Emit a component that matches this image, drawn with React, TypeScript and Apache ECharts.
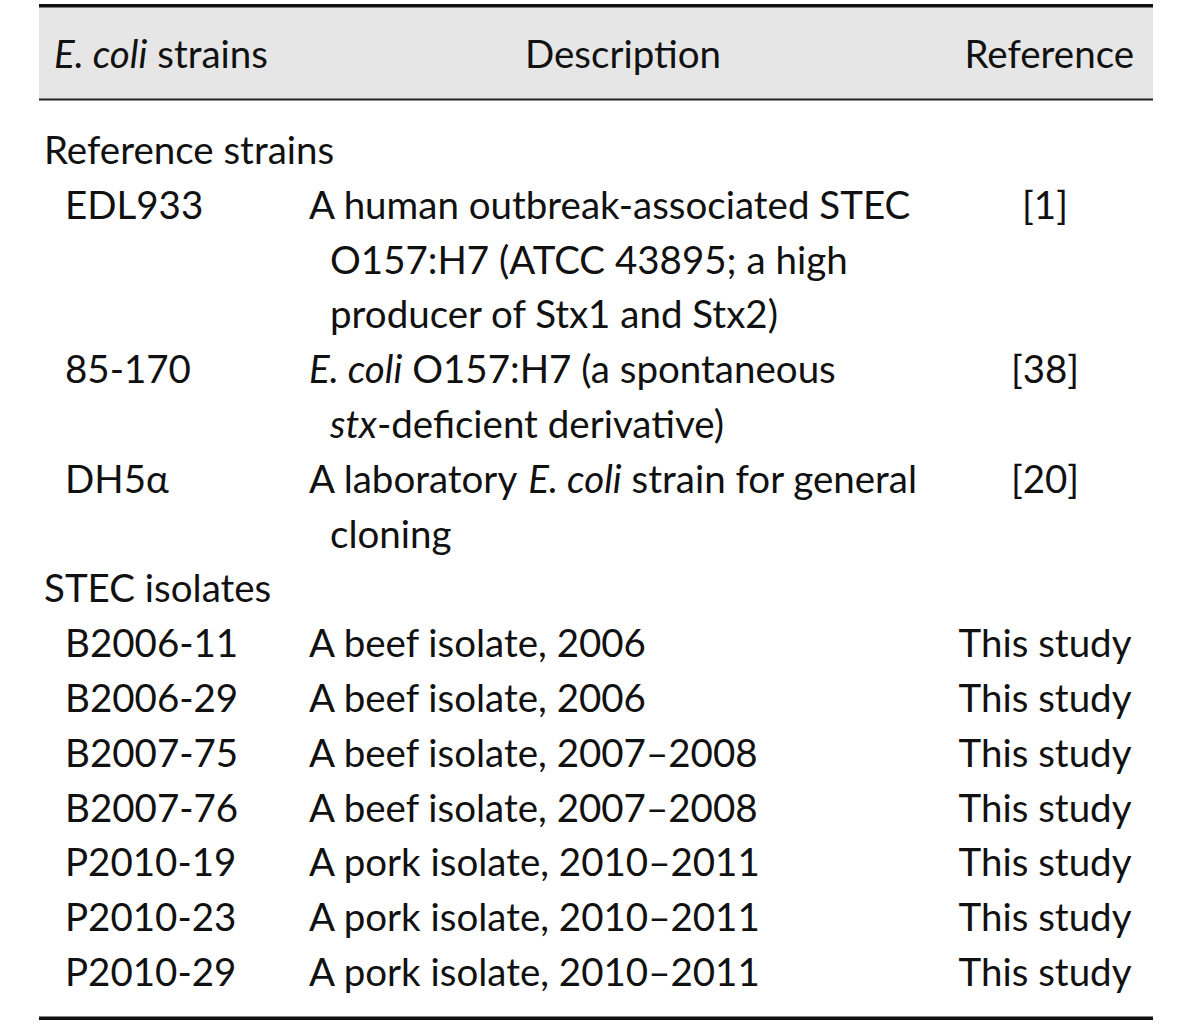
import React, { useEffect, useRef } from "react";
import * as echarts from "echarts";

// ---- table content ----
const headers = ["{i|E. coli} strains", "Description", "Reference"];
const groups = ["Reference strains", "STEC isolates"];
const strainGroup = [0, 0, 0, 1, 1, 1, 1, 1, 1, 1];
const strains = ["EDL933", "85-170", "DH5α", "B2006-11", "B2006-29", "B2007-75", "B2007-76", "P2010-19", "P2010-23", "P2010-29"];
const descriptions: string[][] = [
  ["A human outbreak-associated STEC", "O157:H7 (ATCC 43895; a high", "producer of Stx1 and Stx2)"],
  ["{i|E. coli} O157:H7 (a spontaneous", "{i|stx}-deficient derivative)"],
  ["A laboratory {i|E. coli} strain for general", "cloning"],
  ["A beef isolate, 2006"],
  ["A beef isolate, 2006"],
  ["A beef isolate, 2007–2008"],
  ["A beef isolate, 2007–2008"],
  ["A pork isolate, 2010–2011"],
  ["A pork isolate, 2010–2011"],
  ["A pork isolate, 2010–2011"],
];
const references = ["[1]", "[38]", "[20]", "This study", "This study", "This study", "This study", "This study", "This study", "This study"];

const FONT = "Lato";
const FS = 38.5;
const COLOR = "#111111";

function buildGraphics() {
  const els: any[] = [];
  const left = 39, right = 1153;
  const rich = { i: { fontStyle: "italic", fontFamily: FONT, fontSize: FS, fill: COLOR } };
  const txt = (x: number, y: number, text: string, align = "left") => ({
    type: "text",
    x, y,
    style: { text, x: 0, y: 0, fontFamily: FONT, fontSize: FS, fill: COLOR, align, verticalAlign: "middle", rich },
  });
  // header background & rules
  els.push({ type: "rect", shape: { x: left, y: 7, width: right - left, height: 92 }, style: { fill: "#e6e6e6" } });
  els.push({ type: "rect", shape: { x: left, y: 4, width: right - left, height: 3.5 }, style: { fill: "#111" } });
  els.push({ type: "rect", shape: { x: left, y: 98.5, width: right - left, height: 2 }, style: { fill: "#222" } });
  els.push({ type: "rect", shape: { x: left, y: 1016.5, width: right - left, height: 3.5 }, style: { fill: "#111" } });
  // header text
  const hy = 53;
  els.push(txt(54, hy, headers[0]));
  els.push(txt(623, hy, headers[1], "center"));
  els.push(txt(1134, hy, headers[2], "right"));

  const step = 54.8;
  let y = 149;
  let lastGroup = -1;
  strains.forEach((s, i) => {
    if (strainGroup[i] !== lastGroup) {
      lastGroup = strainGroup[i];
      els.push(txt(44, y, groups[lastGroup]));
      y += step;
    }
    els.push(txt(65, y, s));
    els.push(txt(1045, y, references[i], "center"));
    descriptions[i].forEach((line, k) => {
      els.push(txt(k === 0 ? 309 : 330, y, line));
      y += step;
    });
  });
  return els;
}

export default function App() {
  const ref = useRef<HTMLDivElement>(null);
  useEffect(() => {
    document.body.style.margin = "0";
    const chart = echarts.init(ref.current!, null, { renderer: "svg" });
    chart.setOption({
      animation: false,
      backgroundColor: "#ffffff",
      graphic: { elements: buildGraphics() },
    });
    return () => chart.dispose();
  }, []);
  return <div ref={ref} style={{ width: 1200, height: 1026 }} />;
}
